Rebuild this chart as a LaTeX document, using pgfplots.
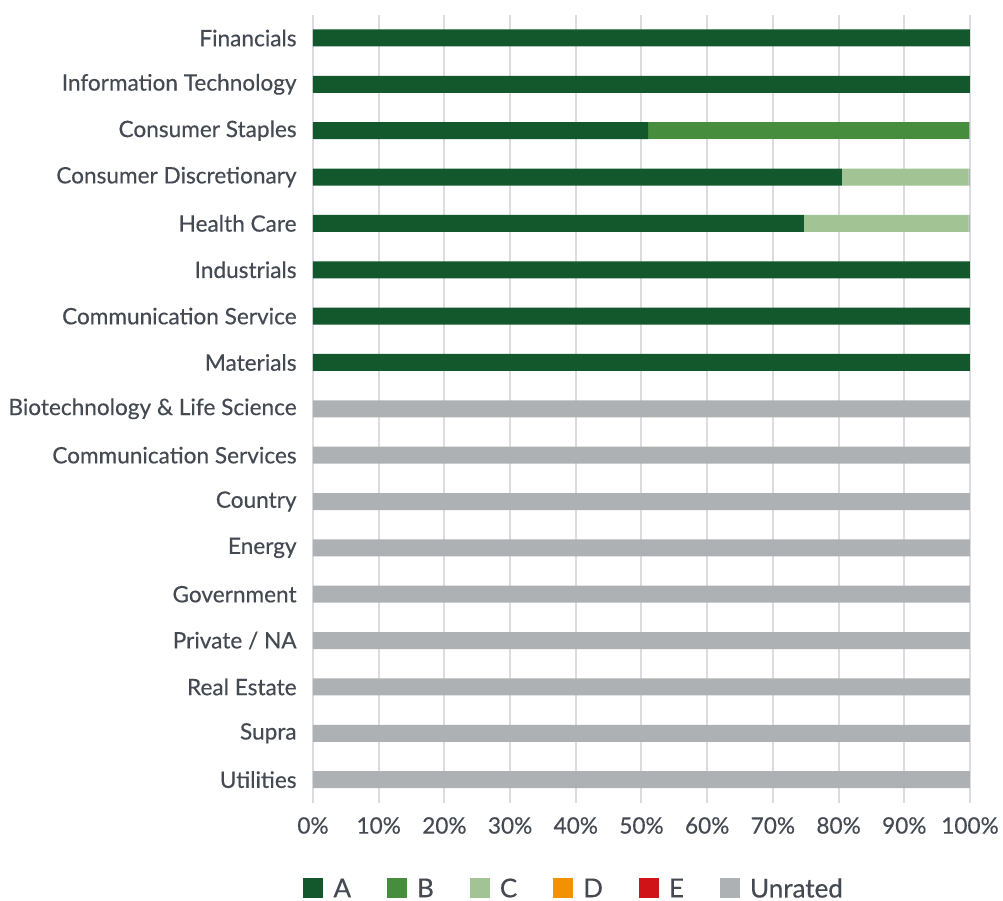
\documentclass[border=0pt]{standalone}
\usepackage{pgfplots}
\pgfplotsset{compat=1.18}
\usepackage{fontspec}
\setmainfont{Lato}[FakeBold=0.35]
\definecolor{cA}{HTML}{12582C}
\definecolor{cB}{HTML}{468E3E}
\definecolor{cC}{HTML}{A2C494}
\definecolor{cD}{HTML}{F39200}
\definecolor{cE}{HTML}{D01317}
\definecolor{cU}{HTML}{ADB1B3}
\definecolor{gridc}{HTML}{DCDCE0}
\definecolor{txt}{HTML}{444952}
\begin{document}
\begin{tikzpicture}
\path[use as bounding box] (-156.5pt,-49pt) rectangle (345pt,401.4pt);
\begin{axis}[
  at={(0,0)}, anchor=south west,
  scale only axis, width=328.5pt, height=394pt,
  xbar stacked, bar width=8.5pt,
  xmin=0, xmax=100, ymin=-0.5, ymax=16.5, y dir=reverse,
  xtick={0,10,...,100},
  xticklabel={\pgfmathprintnumber{\tick}\%},
  /pgf/number format/assume math mode=true,
  ytick={0,...,16},
  yticklabels={Financials,Information Technology,Consumer Staples,Consumer Discretionary,Health Care,Industrials,Communication Service,Materials,Biotechnology \& Life Science,Communication Services,Country,Energy,Government,Private / NA,Real Estate,Supra,Utilities},
  xmajorgrids, grid style={color=gridc, line width=1pt},
  axis line style={draw=none},
  major tick length=0pt,
  tick label style={font=\fontsize{11.3}{13}\selectfont, text=txt},
  yticklabel style={inner sep=0pt, xshift=-8pt},
  xticklabel style={inner sep=0pt, yshift=-7pt},
  legend columns=6,
  legend style={draw=none, at={(0.396,-0.108)}, anchor=center, font=\fontsize{13}{15}\selectfont, text=txt,
    nodes={inner sep=0pt, text depth=0pt},
    /tikz/every even column/.append style={column sep=18pt},
    /tikz/every odd column/.append style={column sep=5pt}},
  legend cell align=left,
  legend image code/.code={\fill[#1] (0pt,-5pt) rectangle (10pt,5pt);},
  every axis plot/.append style={draw=none},
]
\addplot[fill=cA] coordinates {(100,0) (100,1) (51,2) (80.5,3) (74.7,4) (100,5) (100,6) (100,7) (0,8) (0,9) (0,10) (0,11) (0,12) (0,13) (0,14) (0,15) (0,16)};
\addplot[fill=cB] coordinates {(0,0) (0,1) (48.8,2) (0,3) (0,4) (0,5) (0,6) (0,7) (0,8) (0,9) (0,10) (0,11) (0,12) (0,13) (0,14) (0,15) (0,16)};
\addplot[fill=cC] coordinates {(0,0) (0,1) (0,2) (19.3,3) (25.1,4) (0,5) (0,6) (0,7) (0,8) (0,9) (0,10) (0,11) (0,12) (0,13) (0,14) (0,15) (0,16)};
\addplot[fill=cD] coordinates {(0,0) (0,1) (0,2) (0,3) (0,4) (0,5) (0,6) (0,7) (0,8) (0,9) (0,10) (0,11) (0,12) (0,13) (0,14) (0,15) (0,16)};
\addplot[fill=cE] coordinates {(0,0) (0,1) (0,2) (0,3) (0,4) (0,5) (0,6) (0,7) (0,8) (0,9) (0,10) (0,11) (0,12) (0,13) (0,14) (0,15) (0,16)};
\addplot[fill=cU] coordinates {(0,0) (0,1) (0.2,2) (0.2,3) (0.2,4) (0,5) (0,6) (0,7) (100,8) (100,9) (100,10) (100,11) (100,12) (100,13) (100,14) (100,15) (100,16)};
\legend{A,B,C,D,E,Unrated}
\end{axis}
\end{tikzpicture}
\end{document}
